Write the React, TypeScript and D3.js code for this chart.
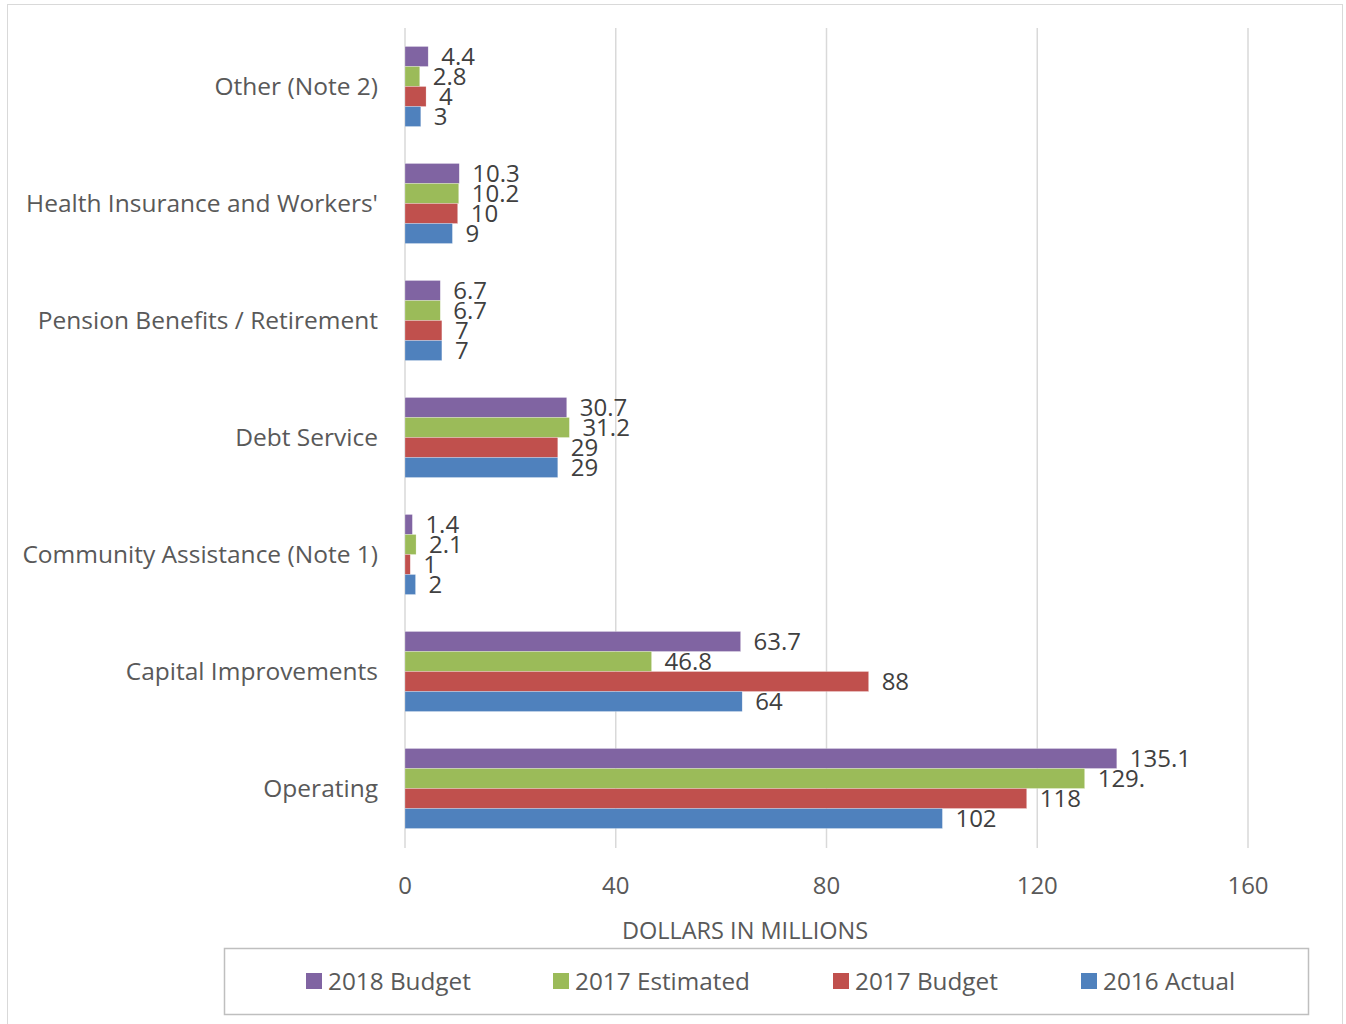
import React from "react";
import * as d3 from "d3";

const categories = [
  "Other (Note 2)",
  "Health Insurance and Workers'",
  "Pension Benefits / Retirement",
  "Debt Service",
  "Community Assistance (Note 1)",
  "Capital Improvements",
  "Operating",
];
const seriesNames = ["2018 Budget", "2017 Estimated", "2017 Budget", "2016 Actual"];
const budget2018 = [4.4, 10.3, 6.7, 30.7, 1.4, 63.7, 135.1];
const estimated2017 = [2.8, 10.2, 6.7, 31.2, 2.1, 46.8, 129];
const budget2017 = [4, 10, 7, 29, 1, 88, 118];
const actual2016 = [3, 9, 7, 29, 2, 64, 102];
const labels2018 = ["4.4", "10.3", "6.7", "30.7", "1.4", "63.7", "135.1"];
const labelsEst2017 = ["2.8", "10.2", "6.7", "31.2", "2.1", "46.8", "129."];
const labels2017 = ["4", "10", "7", "29", "1", "88", "118"];
const labels2016 = ["3", "9", "7", "29", "2", "64", "102"];
const xTicks = [0, 40, 80, 120, 160];
const colors = ["#8064a2", "#9bbb59", "#c0504d", "#4f81bd"];

const seriesValues = [budget2018, estimated2017, budget2017, actual2016];
const seriesLabels = [labels2018, labelsEst2017, labels2017, labels2016];

const FONT = "'Open Sans', Lato, sans-serif";

export default function App() {
  const W = 1346;
  const H = 1024;
  const x = d3.scaleLinear().domain([0, 160]).range([405, 1248]);
  const y0 = d3
    .scaleBand<string>()
    .domain(categories)
    .range([28, 847])
    .paddingInner(0.316)
    .paddingOuter(0.158);
  const y1 = d3
    .scaleBand<string>()
    .domain(seriesNames)
    .range([0, y0.bandwidth()]);

  const legendX = [306, 553, 833, 1081];

  return (
    <svg
      width={W}
      height={H}
      style={{ position: "absolute", left: 0, top: 0, background: "#fff" }}
      fontFamily={FONT}
    >
      <rect x={7.5} y={4.5} width={1335} height={1030} fill="#fff" stroke="#d9d9d9" strokeWidth={1} />
      {xTicks.map((t) => (
        <line key={t} x1={x(t)} x2={x(t)} y1={28} y2={848} stroke="#d9d9d9" strokeWidth={1.5} />
      ))}
      {categories.map((c, ci) => (
        <g key={c}>
          {seriesNames.map((s, si) => {
            const v = seriesValues[si][ci];
            const yy = (y0(c) as number) + (y1(s) as number);
            const bh = y1.bandwidth();
            return (
              <g key={s}>
                <rect
                  x={x(0)}
                  y={yy}
                  width={x(v) - x(0)}
                  height={bh}
                  fill={colors[si]}
                  stroke="#fff"
                  strokeOpacity={0.5}
                  strokeWidth={0.5}
                />
                <text
                  x={x(v) + 13}
                  y={yy + bh / 2}
                  dy="0.36em"
                  fontSize={24}
                  fill="#404040"
                >
                  {seriesLabels[si][ci]}
                </text>
              </g>
            );
          })}
          <text
            x={378}
            y={(y0(c) as number) + y0.bandwidth() / 2}
            dy="0.36em"
            textAnchor="end"
            fontSize={24.5}
            fill="#595959"
          >
            {c}
          </text>
        </g>
      ))}
      {xTicks.map((t) => (
        <text key={t} x={x(t)} y={885} dy="0.36em" textAnchor="middle" fontSize={24} fill="#595959">
          {t}
        </text>
      ))}
      <text x={745} y={931} dy="0.36em" textAnchor="middle" fontSize={23.5} fill="#595959">
        DOLLARS IN MILLIONS
      </text>
      <rect x={224.5} y={948.5} width={1084} height={66} fill="#fff" stroke="#bfbfbf" strokeWidth={1.5} />
      {seriesNames.map((s, si) => (
        <g key={s}>
          <rect x={legendX[si]} y={973} width={16} height={16} fill={colors[si]} />
          <text x={legendX[si] + 22} y={981} dy="0.36em" fontSize={24.3} fill="#595959">
            {s}
          </text>
        </g>
      ))}
    </svg>
  );
}
